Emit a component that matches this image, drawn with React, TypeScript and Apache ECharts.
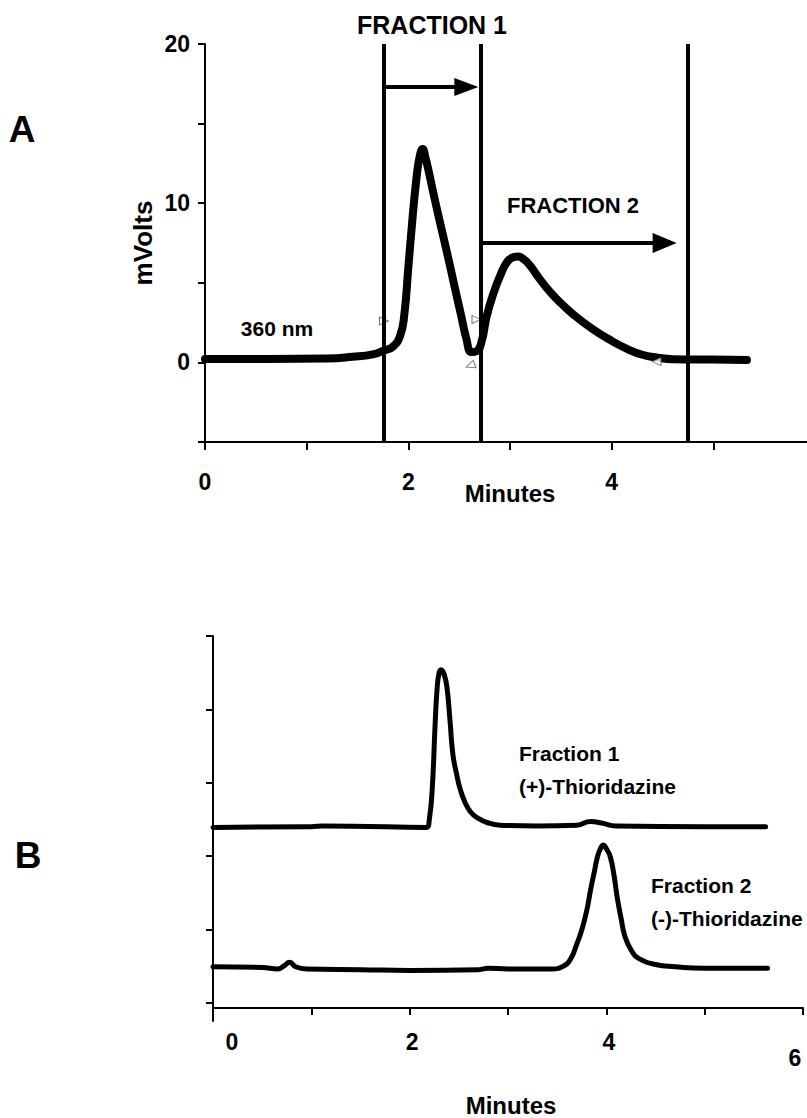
import React, { useEffect, useRef } from 'react';
import * as echarts from 'echarts';

// ---------- Panel A: preparative run, 360 nm ----------
const A_TIME = [0, 0.6, 1.2, 1.45, 1.65, 1.76, 1.85, 1.92, 1.96, 2.0, 2.04, 2.08, 2.11, 2.14, 2.17, 2.2, 2.24, 2.3, 2.38, 2.46, 2.52, 2.57, 2.62, 2.67, 2.72, 2.77, 2.84, 2.9, 2.97, 3.03, 3.08, 3.14, 3.2, 3.29, 3.4, 3.5, 3.62, 3.8, 4.0, 4.15, 4.3, 4.45, 4.6, 5.0, 5.33];
const A_MVOLTS = [0.22, 0.22, 0.25, 0.35, 0.5, 0.75, 1.0, 1.7, 3.0, 6.0, 9.0, 11.6, 12.9, 13.4, 12.8, 12.0, 10.8, 9.1, 6.9, 4.6, 2.9, 1.5, 0.65, 0.7, 1.3, 2.9, 4.4, 5.4, 6.3, 6.6, 6.65, 6.45, 6.05, 5.25, 4.38, 3.72, 3.02, 2.15, 1.35, 0.85, 0.48, 0.3, 0.2, 0.18, 0.15];
// small open-triangle integration marks: [minute, mVolts, rotation deg]
const A_MARKS = [
  [1.76, 2.6, -90],
  [2.67, 2.7, -90],
  [2.61, -0.2, 110],
  [4.44, 0.05, 90],
];
const A_X_LABELLED = [0, 2, 4];
const A_Y_LABELLED = [0, 10, 20];
const FRACTION_CUTS = [1.76, 2.71, 4.75];
// arrows: [start minute, end minute, mVolts level]
const FRACTION1_ARROW = [1.76, 2.57, 17.3];
const FRACTION2_ARROW = [2.71, 4.52, 7.5];

// ---------- Panel B: analytical runs of the fractions ----------
const B1_TIME = [0, 1.0, 1.12, 2.17, 2.2, 2.23, 2.26, 2.28, 2.3, 2.32, 2.35, 2.38, 2.41, 2.44, 2.48, 2.51, 2.56, 2.62, 2.69, 2.8, 2.92, 3.3, 3.7, 3.84, 3.95, 4.1, 5.0, 5.62];
const B1_SIGNAL = [2.39, 2.4, 2.41, 2.39, 2.5, 2.93, 3.83, 4.3, 4.5, 4.54, 4.48, 4.29, 3.85, 3.38, 3.1, 2.93, 2.74, 2.6, 2.52, 2.45, 2.42, 2.41, 2.42, 2.47, 2.45, 2.41, 2.4, 2.4];
const B2_TIME = [0, 0.5, 0.66, 0.72, 0.78, 0.84, 0.95, 1.5, 2.0, 2.7, 2.8, 3.0, 3.45, 3.55, 3.63, 3.7, 3.75, 3.8, 3.84, 3.88, 3.91, 3.94, 3.97, 4.0, 4.04, 4.08, 4.11, 4.15, 4.19, 4.26, 4.32, 4.5, 4.7, 5.0, 5.64];
const B2_SIGNAL = [0.49, 0.48, 0.46, 0.5, 0.55, 0.49, 0.46, 0.45, 0.44, 0.45, 0.47, 0.46, 0.46, 0.49, 0.58, 0.8, 0.99, 1.25, 1.54, 1.8, 1.99, 2.1, 2.15, 2.1, 1.99, 1.72, 1.44, 1.15, 0.9, 0.7, 0.61, 0.52, 0.49, 0.47, 0.47];
const B_Y_TICKS = [0, 1, 2, 3, 4, 5];

const FONT = '"Liberation Sans", Arial, Helvetica, sans-serif';
const BLACK = '#000';

function zip(xs: number[], ys: number[]) {
  return xs.map((x, i) => [x, ys[i]]);
}

function txt(text: string, x: number, y: number, size: number, align = 'center', rotation = 0) {
  return {
    type: 'text',
    x,
    y,
    rotation,
    silent: true,
    style: {
      text,
      fill: BLACK,
      font: `bold ${size}px ${FONT}`,
      align,
      verticalAlign: 'middle',
    },
  };
}

export default function App() {
  const ref = useRef<HTMLDivElement>(null);

  useEffect(() => {
    if (!ref.current) return;
    const chart = echarts.init(ref.current, null, { renderer: 'svg' });

    const axisLine = { onZero: false, lineStyle: { color: BLACK, width: 2 } };
    const labelBase = { color: BLACK, fontSize: 23, fontWeight: 'bold', fontFamily: FONT };

    const option: any = {
      animation: false,
      backgroundColor: '#fff',
      grid: [
        { left: 205, top: 44, width: 602, height: 398 },
        { left: 213, top: 636, width: 590, height: 385 },
      ],
      xAxis: [
        {
          gridIndex: 0,
          type: 'value',
          min: 0,
          max: 5.92,
          interval: 1,
          axisLine,
          axisTick: { length: 8, lineStyle: { color: BLACK, width: 2 } },
          splitLine: { show: false },
          axisLabel: {
            ...labelBase,
            margin: 28,
            showMaxLabel: false,
            formatter: (v: number) => (A_X_LABELLED.includes(Math.round(v * 100) / 100) ? String(v) : ''),
          },
        },
        {
          gridIndex: 1,
          type: 'value',
          min: 0,
          max: 6,
          interval: 1,
          offset: -13,
          axisLine,
          axisTick: { length: 7, lineStyle: { color: BLACK, width: 2 } },
          splitLine: { show: false },
          axisLabel: {
            ...labelBase,
            margin: 22,
            showMinLabel: true,
            showMaxLabel: true,
            formatter: (v: number) => {
              if (v === 0) return '{z|0}';
              if (v === 6) return '{s|6}';
              if (v === 2 || v === 4) return '{n|' + v + '}';
              return '';
            },
            rich: {
              z: { ...labelBase, padding: [0, 0, 0, 38] },
              n: { ...labelBase, padding: [0, 0, 0, 5] },
              s: { ...labelBase, padding: [16, 16, 0, 0] },
            },
          },
        },
      ],
      yAxis: [
        {
          gridIndex: 0,
          type: 'value',
          min: -5,
          max: 20,
          interval: 5,
          axisLine,
          axisTick: { length: 7, lineStyle: { color: BLACK, width: 2 } },
          splitLine: { show: false },
          axisLabel: {
            ...labelBase,
            margin: 15,
            padding: [8, 0, 0, 0],
            formatter: (v: number) => (A_Y_LABELLED.includes(v) ? String(v) : ''),
          },
        },
        {
          gridIndex: 1,
          type: 'value',
          min: -0.25,
          max: 5,
          axisLine,
          axisTick: { length: 7, customValues: B_Y_TICKS, lineStyle: { color: BLACK, width: 2 } },
          splitLine: { show: false },
          axisLabel: { show: false },
        },
      ],
      series: [
        {
          type: 'line',
          xAxisIndex: 0,
          yAxisIndex: 0,
          data: zip(A_TIME, A_MVOLTS),
          showSymbol: false,
          smooth: 0.5,
          lineStyle: { color: BLACK, width: 8, cap: 'round', join: 'round' },
          z: 3,
          markLine: {
            silent: true,
            symbol: ['none', 'none'],
            label: { show: false },
            lineStyle: { color: BLACK, width: 4, type: 'solid' },
            data: [
              ...FRACTION_CUTS.map((c) => ({ xAxis: c })),
              [
                { coord: [FRACTION1_ARROW[0], FRACTION1_ARROW[2]], symbol: 'none' },
                { coord: [FRACTION1_ARROW[1], FRACTION1_ARROW[2]], symbol: 'triangle', symbolSize: [18, 24] },
              ],
              [
                { coord: [FRACTION2_ARROW[0], FRACTION2_ARROW[2]], symbol: 'none' },
                { coord: [FRACTION2_ARROW[1], FRACTION2_ARROW[2]], symbol: 'triangle', symbolSize: [20, 24] },
              ],
            ],
          },
        },
        {
          type: 'scatter',
          xAxisIndex: 0,
          yAxisIndex: 0,
          silent: true,
          z: 4,
          data: A_MARKS.map((m) => ({ value: [m[0], m[1]], symbolRotate: m[2] })),
          symbol: 'triangle',
          symbolSize: [8, 9],
          itemStyle: { color: '#fff', borderColor: '#555', borderWidth: 1 },
        },
        {
          type: 'line',
          xAxisIndex: 1,
          yAxisIndex: 1,
          data: zip(B1_TIME, B1_SIGNAL),
          showSymbol: false,
          smooth: 0.5,
          lineStyle: { color: BLACK, width: 5, cap: 'round', join: 'round' },
        },
        {
          type: 'line',
          xAxisIndex: 1,
          yAxisIndex: 1,
          data: zip(B2_TIME, B2_SIGNAL),
          showSymbol: false,
          smooth: 0.5,
          lineStyle: { color: BLACK, width: 5, cap: 'round', join: 'round' },
        },
      ],
      graphic: [
        txt('A', 22, 129, 37),
        txt('B', 28, 855, 37),
        txt('FRACTION 1', 432, 25, 25),
        txt('FRACTION 2', 573, 205, 22),
        txt('360 nm', 277, 328, 21),
        txt('mVolts', 143, 243, 26, 'center', Math.PI / 2),
        txt('Minutes', 510, 493, 24),
        txt('Minutes', 511, 1105, 24),
        txt('Fraction 1', 519, 753, 21, 'left'),
        txt('(+)-Thioridazine', 519, 786, 21, 'left'),
        txt('Fraction 2', 651, 885, 21, 'left'),
        txt('(-)-Thioridazine', 651, 918, 21, 'left'),
      ],
    };

    chart.setOption(option);
    return () => chart.dispose();
  }, []);

  return (
    <div
      ref={ref}
      style={{ position: 'absolute', left: 0, top: 0, width: 807, height: 1118, background: '#fff' }}
    />
  );
}
